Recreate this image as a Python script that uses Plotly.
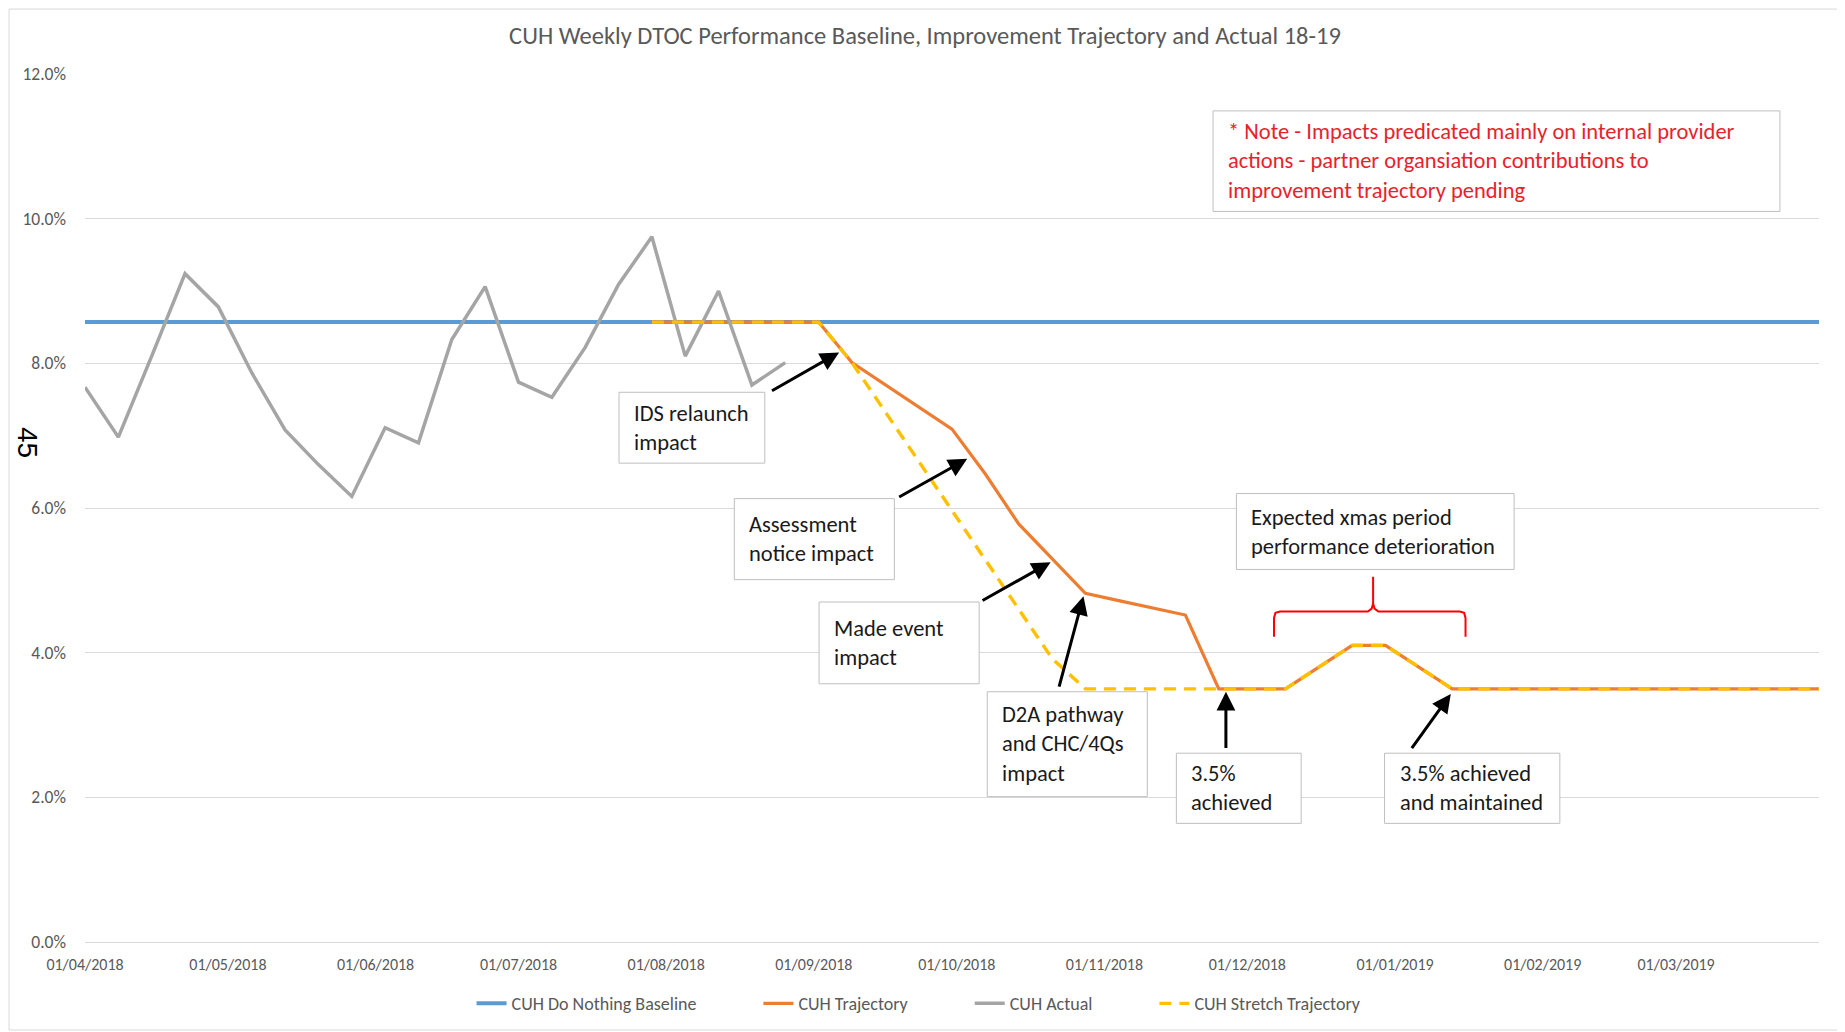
import plotly.graph_objects as go
import pandas as pd

# ---------------- data ----------------
weeks = [
    "2018-04-01", "2018-04-08", "2018-04-15", "2018-04-22", "2018-04-29",
    "2018-05-06", "2018-05-13", "2018-05-20", "2018-05-27",
    "2018-06-03", "2018-06-10", "2018-06-17", "2018-06-24",
    "2018-07-01", "2018-07-08", "2018-07-15", "2018-07-22", "2018-07-29",
    "2018-08-05", "2018-08-12", "2018-08-19", "2018-08-26",
    "2018-09-02", "2018-09-09", "2018-09-16", "2018-09-23", "2018-09-30",
    "2018-10-07", "2018-10-14", "2018-10-21", "2018-10-28",
    "2018-11-04", "2018-11-11", "2018-11-18", "2018-11-25",
    "2018-12-02", "2018-12-09", "2018-12-16", "2018-12-23", "2018-12-30",
    "2019-01-06", "2019-01-13", "2019-01-20", "2019-01-27",
    "2019-02-03", "2019-02-10", "2019-02-17", "2019-02-24",
    "2019-03-03", "2019-03-10", "2019-03-17", "2019-03-24", "2019-03-31",
]

# values in percent
baseline = [
    8.57, 8.57, 8.57, 8.57, 8.57, 8.57, 8.57, 8.57, 8.57, 8.57,
    8.57, 8.57, 8.57, 8.57, 8.57, 8.57, 8.57, 8.57, 8.57, 8.57,
    8.57, 8.57, 8.57, 8.57, 8.57, 8.57, 8.57, 8.57, 8.57, 8.57,
    8.57, 8.57, 8.57, 8.57, 8.57, 8.57, 8.57, 8.57, 8.57, 8.57,
    8.57, 8.57, 8.57, 8.57, 8.57, 8.57, 8.57, 8.57, 8.57, 8.57,
    8.57, 8.57, 8.57,
]

trajectory = [
    None, None, None, None, None, None, None, None, None, None,
    None, None, None, None, None, None, None,
    8.57, 8.57, 8.57, 8.57, 8.57, 8.57,
    8.01, 7.70, 7.40, 7.09, 6.47, 5.78, 5.30, 4.82,
    4.72, 4.62, 4.52, 3.50, 3.50, 3.50,
    3.80, 4.10, 4.10, 3.80, 3.50,
    3.50, 3.50, 3.50, 3.50, 3.50, 3.50, 3.50, 3.50, 3.50, 3.50, 3.50,
]

actual = [
    7.67, 6.98, 8.10, 9.24, 8.78, 7.87, 7.08, 6.60, 6.16, 7.11,
    6.90, 8.33, 9.06, 7.74, 7.53, 8.22, 9.09, 9.75, 8.10, 9.00,
    7.70, 8.01,
]

stretch = [
    None, None, None, None, None, None, None, None, None, None,
    None, None, None, None, None, None, None,
    8.57, 8.57, 8.57, 8.57, 8.57, 8.57,
    8.01, 7.33, 6.65, 5.96, 5.28, 4.60, 3.92, 3.50,
    3.50, 3.50, 3.50, 3.50, 3.50, 3.50,
    3.80, 4.10, 4.10, 3.80, 3.50,
    3.50, 3.50, 3.50, 3.50, 3.50, 3.50, 3.50, 3.50, 3.50, 3.50, 3.50,
]

series_names = ["CUH Do Nothing Baseline", "CUH Trajectory", "CUH Actual", "CUH Stretch Trajectory"]
y_ticks = [0, 2, 4, 6, 8, 10, 12]

title_text = "CUH Weekly DTOC Performance Baseline, Improvement Trajectory and Actual 18-19"

# ---------------- annotation layout (day offset from 1 Apr 2018, percent) ----------------
BASE = pd.Timestamp("2018-04-01")


def d2date(d):
    return (BASE + pd.Timedelta(days=d)).strftime("%Y-%m-%d %H:%M:%S")


def d2ms(d):
    return int((BASE + pd.Timedelta(days=d)).value // 10**6)


# (x0_day, x1_day, top_pct, bottom_pct, text, colour)
boxes = [
    (236.8, 355.8, 11.49, 10.10,
     "* Note - Impacts predicated mainly on internal provider<br>actions - partner organsiation contributions to<br>improvement trajectory pending",
     "#E8222B"),
    (112.1, 142.7, 7.60, 6.62, "IDS relaunch<br>impact", "#1a1a1a"),
    (136.3, 169.9, 6.13, 5.01, "Assessment<br>notice impact", "#1a1a1a"),
    (154.1, 187.7, 4.70, 3.57, "Made event<br>impact", "#1a1a1a"),
    (189.4, 223.0, 3.46, 2.01, "D2A pathway<br>and CHC/4Qs<br>impact", "#1a1a1a"),
    (229.1, 255.3, 2.61, 1.64, "3.5%<br>achieved", "#1a1a1a"),
    (272.8, 309.6, 2.61, 1.64, "3.5% achieved<br>and maintained", "#1a1a1a"),
    (241.7, 300.0, 6.20, 5.15, "Expected xmas period<br>performance deterioration", "#1a1a1a"),
]

# (tail_day, tail_pct, head_day, head_pct)
arrows = [
    (143.9, 7.61, 158.3, 8.15),
    (170.6, 6.14, 185.2, 6.68),
    (188.1, 4.71, 202.7, 5.25),
    (204.4, 3.51, 209.6, 4.78),
    (239.5, 2.66, 239.5, 3.46),
    (278.3, 2.66, 286.7, 3.43),
]

# curly brace outline (day, pct)
brace = [
    (249.6, 4.22), (249.6, 4.48), (249.9, 4.55), (250.85, 4.57),
    (269.3, 4.57), (270.1, 4.61), (270.4, 4.68), (270.4, 5.05),
    (270.4, 4.68), (270.7, 4.61), (271.5, 4.57), (288.6, 4.57),
    (289.5, 4.55), (289.8, 4.48), (289.8, 4.22),
]

FONT = "Carlito, Lato, 'Open Sans', sans-serif"
GREY_TXT = "#595959"
PAD = "\u00a0" * 14   # trailing spacing between legend entries


def pct(vals):
    return [None if v is None else v / 100 for v in vals]


fig = go.Figure()
fig.add_trace(go.Scatter(x=weeks, y=pct(baseline), name=series_names[0] + PAD, mode="lines",
                         line=dict(color="#5B9BD5", width=4)))
fig.add_trace(go.Scatter(x=weeks, y=pct(trajectory), name=series_names[1] + PAD, mode="lines",
                         line=dict(color="#ED7D31", width=3.2)))
fig.add_trace(go.Scatter(x=weeks[:len(actual)], y=pct(actual), name=series_names[2] + PAD, mode="lines",
                         line=dict(color="#A5A5A5", width=3.5)))
fig.add_trace(go.Scatter(x=weeks, y=pct(stretch), name=series_names[3], mode="lines",
                         line=dict(color="#FFC000", width=3.4, dash="12px,8px")))

shapes = []
annotations = []

for x0, x1, top, bot, txt, col in boxes:
    shapes.append(dict(type="rect", xref="x", yref="y",
                       x0=d2date(x0), x1=d2date(x1), y0=bot / 100, y1=top / 100,
                       line=dict(color="#BFBFBF", width=1), fillcolor="white", layer="above"))
    annotations.append(dict(xref="x", yref="y", x=d2date(x0), y=(top + bot) / 200,
                            xanchor="left", yanchor="middle", xshift=13, align="left",
                            showarrow=False, text=txt,
                            font=dict(family=FONT, size=22.5, color=col)))

for tx, ty, hx, hy in arrows:
    annotations.append(dict(xref="x", yref="y", axref="x", ayref="y",
                            x=d2date(hx), y=hy / 100, ax=d2date(tx), ay=ty / 100,
                            text="", showarrow=True, arrowhead=2, arrowsize=1.25,
                            arrowwidth=3, arrowcolor="black", standoff=0, startstandoff=0))

path = "M " + " L ".join(f"{d2ms(d)},{v / 100}" for d, v in brace)
shapes.append(dict(type="path", xref="x", yref="y", path=path,
                   line=dict(color="#FF0000", width=2)))

# outer chart border
shapes.append(dict(type="rect", xref="paper", yref="paper",
                   x0=-0.0438, x1=1.0138, y0=-0.1014, y1=1.0748,
                   line=dict(color="#D9D9D9", width=1)))

# page number artefact at left
annotations.append(dict(xref="paper", yref="paper", x=-0.0335, y=0.575,
                        xanchor="center", yanchor="middle",
                        text="45", showarrow=False, textangle=90,
                        font=dict(family="Liberation Sans, Arial, sans-serif", size=28, color="black")))

fig.update_layout(
    width=1845, height=1032,
    margin=dict(l=77, r=34, t=66, b=98),
    paper_bgcolor="white", plot_bgcolor="white",
    title=dict(text=title_text, x=0.497, xanchor="center", y=0.9738, yanchor="middle",
               font=dict(family=FONT, size=24.5, color=GREY_TXT)),
    showlegend=True,
    legend=dict(orientation="h", x=0.481, xanchor="center", y=-0.071, yanchor="middle",
                font=dict(family=FONT, size=18, color=GREY_TXT), traceorder="normal"),
    hovermode=False,
    shapes=shapes,
    annotations=annotations,
)

fig.update_xaxes(type="date", range=["2018-04-01", "2019-03-31"],
                 tick0="2018-04-01", dtick="M1", tickformat="%d/%m/%Y",
                 showgrid=False, zeroline=False, showline=True, linecolor="#D9D9D9", linewidth=1,
                 ticks="", ticklabelstandoff=8,
                 tickfont=dict(family=FONT, size=16, color=GREY_TXT))
fig.update_yaxes(range=[0, 0.12], tickvals=[v / 100 for v in y_ticks], tickformat=".1%",
                 showgrid=True, gridcolor="#D9D9D9", gridwidth=1, zeroline=False,
                 ticks="", ticklabelstandoff=18,
                 tickfont=dict(family=FONT, size=17.5, color=GREY_TXT))

fig.write_html("out.html")
